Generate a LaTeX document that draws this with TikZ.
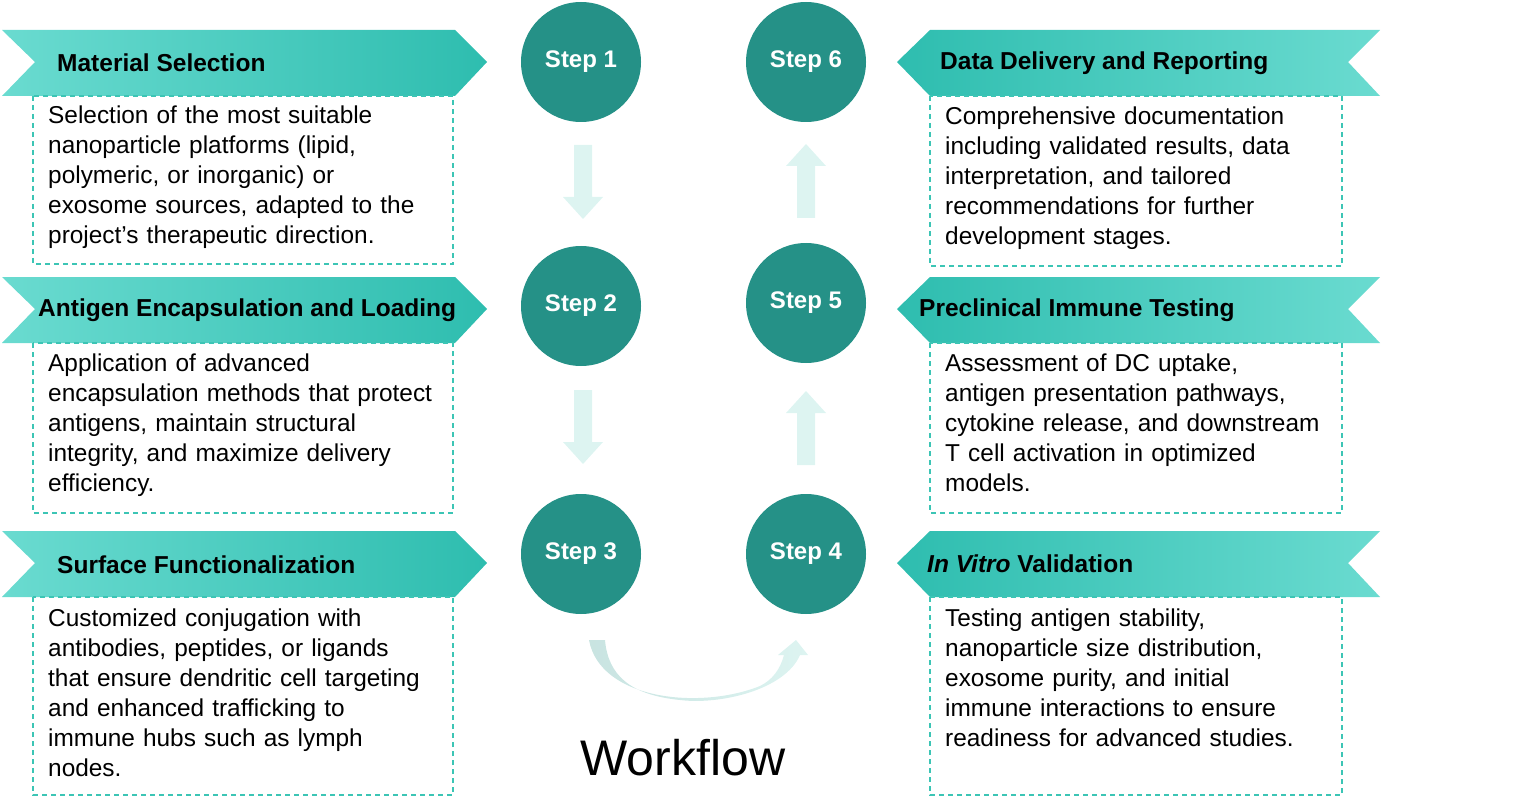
\documentclass[tikz,border=0pt]{standalone}
\usepackage{fontspec}
\setmainfont{Liberation Sans}
\begin{document}
\begin{tikzpicture}[x=1pt,y=-1pt,
 stepc/.style={circle,fill=teal0,minimum size=120pt,inner sep=0pt,text=white,font=\fontsize{24}{28}\selectfont\bfseries},
 dbox/.style={draw=teal1,dashed,dash pattern=on 5pt off 4pt,line width=1.3pt},
 body/.style={anchor=north west,text width=440pt,align=left,inner sep=0pt,font=\fontsize{24.4}{30}\selectfont},
 ttl/.style={anchor=west,inner sep=0pt,font=\fontsize{24.5}{28}\selectfont\bfseries},
 barr/.style={fill=lightc,draw=none}]
\definecolor{teal0}{HTML}{259187}
\definecolor{teal1}{HTML}{3CC5B5}
\definecolor{lightc}{HTML}{DDF4F1}
\definecolor{bl}{HTML}{6ADBD0}
\definecolor{bd}{HTML}{2EBDAF}
\useasboundingbox (0,0) rectangle (1518,805);
% left banners
\foreach \y in {30,277,531}{
 \shade[left color=bl,right color=bd] (2,\y) -- (455,\y) -- (487,\y+32) -- (455,\y+66) -- (2,\y+66) -- (35,\y+32) -- cycle;}
\foreach \y in {30,277,531}{
 \shade[left color=bd,right color=bl] (1380,\y) -- (930,\y) -- (897,\y+32) -- (930,\y+66) -- (1380,\y+66) -- (1348,\y+32) -- cycle;}
% boxes
\draw[dbox] (33,96) rectangle (453,264);
\draw[dbox] (33,343) rectangle (453,513);
\draw[dbox] (33,597) rectangle (453,795);
\draw[dbox] (930,96) rectangle (1342,266);
\draw[dbox] (930,343) rectangle (1342,513);
\draw[dbox] (930,597) rectangle (1342,795);
% titles
\node[ttl] (t1) at (57,63) {Material Selection};
\node[ttl] (t2) at (38,310) {Antigen Encapsulation and Loading};
\node[ttl] (t3) at (57,565) {Surface Functionalization};
\node[ttl] (t6) at (940,63) {Data Delivery and Reporting};
\node[ttl] (t5) at (919,310) {Preclinical Immune Testing};
\node[ttl] (t4) at (927,564) {\itshape In Vitro\upshape\ Validation};
% bodies
\node[body] (b1) at (48,106) {Selection of the most suitable\\nanoparticle platforms (lipid,\\polymeric, or inorganic) or\\exosome sources, adapted to the\\project’s therapeutic direction.};
\node[body] (b2) at (48,354) {Application of advanced\\encapsulation methods that protect\\antigens, maintain structural\\integrity, and maximize delivery\\efficiency.};
\node[body] (b3) at (48,609) {Customized conjugation with\\antibodies, peptides, or ligands\\that ensure dendritic cell targeting\\and enhanced trafficking to\\immune hubs such as lymph\\nodes.};
\node[body] (b6) at (945,107) {Comprehensive documentation\\including validated results, data\\interpretation, and tailored\\recommendations for further\\development stages.};
\node[body] (b5) at (945,354) {Assessment of DC uptake,\\antigen presentation pathways,\\cytokine release, and downstream\\T cell activation in optimized\\models.};
\node[body] (b4) at (945,609) {Testing antigen stability,\\nanoparticle size distribution,\\exosome purity, and initial\\immune interactions to ensure\\readiness for advanced studies.};
% steps
\node[stepc] (s1) at (581,62) {Step 1};
\node[stepc] (s2) at (581,306) {Step 2};
\node[stepc] (s3) at (581,554) {Step 3};
\node[stepc] (s4) at (806,554) {Step 4};
\node[stepc] (s5) at (806,303) {Step 5};
\node[stepc] (s6) at (806,62) {Step 6};
% block arrows
\foreach \x/\a in {583/145,583/390}{
 \fill[barr] (\x-9,\a) -- (\x+9,\a) -- (\x+9,\a+52) -- (\x+20,\a+52) -- (\x,\a+74) -- (\x-20,\a+52) -- (\x-9,\a+52) -- cycle;}
\foreach \x/\a in {806/218,806/465}{
 \fill[barr] (\x-9,\a) -- (\x+9,\a) -- (\x+9,\a-52) -- (\x+20,\a-52) -- (\x,\a-74) -- (\x-20,\a-52) -- (\x-9,\a-52) -- cycle;}
% curved arrow
\shade[left color=teal0!25,right color=lightc] (589,640) .. controls (600,700) and (700,710) .. (760,686) .. controls (772,680) and (780,670) .. (784,655) -- (778,655) -- (796,640) -- (808,655) -- (800,655) .. controls (785,690) and (720,705) .. (680,700) .. controls (630,695) and (608,675) .. (605,640) -- cycle;
\node[font=\fontsize{50}{54}\selectfont] (wf) at (683,758) {Workflow};
\end{tikzpicture}
\end{document}
